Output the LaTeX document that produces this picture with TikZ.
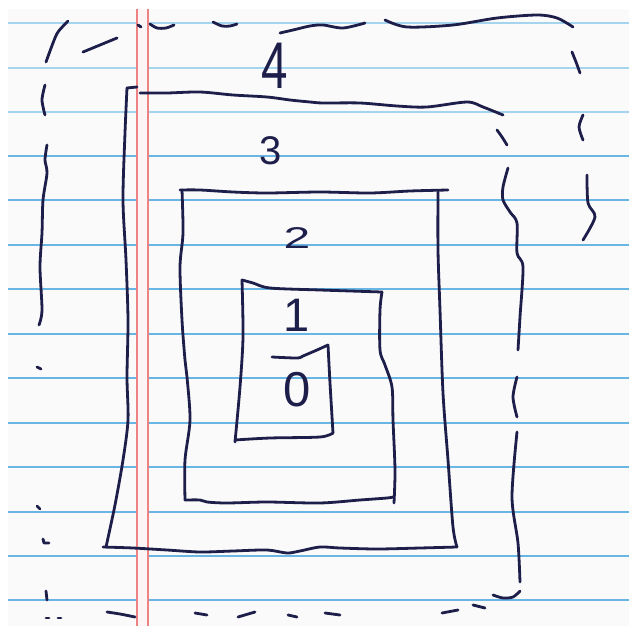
\documentclass[tikz,border=0pt]{standalone}
\usepackage{fontspec}
\setmainfont{Liberation Sans}
\definecolor{ink}{RGB}{30,30,75}
\definecolor{rulecol}{RGB}{105,182,228}
\definecolor{rulelight}{RGB}{165,212,238}
\definecolor{margincol}{RGB}{236,130,130}
\definecolor{paper}{RGB}{250,250,251}
\tikzset{
  pen/.style={draw=ink, line width=2.8pt, line cap=round, line join=round},
  ruleline/.style={draw=rulecol, line width=1.8pt},
  rulelightline/.style={draw=rulelight, line width=1.6pt},
  marginline/.style={draw=margincol, line width=1.1pt},
  digit/.style={text=ink, inner sep=0pt}
}
\begin{document}
\begin{tikzpicture}[x=1pt,y=-1pt]
\useasboundingbox (0,0) rectangle (629,626);
\fill[white] (0,0) rectangle (629,626);
\fill[paper] (8,9) rectangle (629,626);
% ruled lines
\foreach \yy in {23,68,112} {\draw[rulelightline] (8,\yy) -- (629,\yy);}
\foreach \yy in {156,200,245,289,334,378,423,467,512,556,600} {\draw[ruleline] (8,\yy) -- (629,\yy);}
% margin lines
\fill[margincol!8] (137,9) rectangle (148,626);
\draw[marginline] (137,9) -- (137,626);
\draw[marginline] (148,9) -- (148,626);

% ---- outer dashed frame (4) ----
\draw[pen] plot[smooth] coordinates {(68,21) (58,32) (53,43) (46,62)};
\draw[pen] plot[smooth] coordinates {(83,52) (100,45) (117,38)};
\draw[pen] (138,25) -- (141,27);
\draw[pen] plot[smooth] coordinates {(150,24) (157,28) (166,28) (174,25)};
\draw[pen] plot[smooth] coordinates {(213,22) (222,26) (230,26) (237,24)};
\draw[pen] plot[smooth] coordinates {(280,33) (293,30) (310,26) (323,25) (343,28) (365,23)};
\draw[pen] plot[smooth] coordinates {(385,20) (407,27) (453,25) (497,18) (537,15) (557,18) (573,27)};
\draw[pen] plot[smooth] coordinates {(572,52) (576,62) (580,73)};
\draw[pen] plot[smooth] coordinates {(583,115) (579,127) (583,140)};
\draw[pen] plot[smooth] coordinates {(587,175) (588,203) (595,217) (583,240)};
% left side
\draw[pen] plot[smooth] coordinates {(45,85) (42,100) (45,115)};
\draw[pen] plot[smooth] coordinates {(47,145) (45,160) (47,173) (43,200) (42,233) (40,267) (42,310) (39,325)};
\draw[pen] (37,367) -- (41,369);
\draw[pen] (37,506) -- (40,509);
\draw[pen] (43,539) -- (44,543) -- (49,543);
\draw[pen] (46,591) -- (47,600);
\draw[pen] (46,618) -- (49,618);
\draw[pen] (58,618) -- (61,618);
% bottom
\draw[pen] plot[smooth] coordinates {(107,612) (120,614) (135,617)};
\draw[pen] (195,613) -- (207,615);
\draw[pen] (238,617) -- (255,612);
\draw[pen] (288,615) -- (297,617);
\draw[pen] (325,613) -- (340,615);
\draw[pen] (442,613) -- (458,610);
\draw[pen] (473,605) -- (485,608);
\draw[pen] plot[smooth] coordinates {(493,595) (503,598) (513,597) (520,591)};
% inner right dashed
\draw[pen] plot[smooth] coordinates {(497,130) (502,137) (507,145)};
\draw[pen] plot[smooth] coordinates {(508,168) (503,187) (503,200) (510,212) (517,223) (517,253) (523,267) (520,317) (518,350)};
\draw[pen] plot[smooth] coordinates {(517,377) (513,397) (517,417)};
\draw[pen] plot[smooth] coordinates {(517,432) (512,497) (518,543) (520,582)};

% ---- rectangle 3 ----
\draw[pen] plot[smooth] coordinates {(140,93) (167,93) (200,92) (233,95) (267,97) (290,100) (310,102) (323,103) (360,103) (397,106) (427,107) (467,102) (483,107) (503,115)};
\draw[pen] (137,87) -- (127,88);
\draw[pen] plot[smooth] coordinates {(127,88) (125,133) (123,200) (126,260) (128,320) (127,377) (128,420) (123,460) (115,505) (106,547)};
\draw[pen] plot[smooth] coordinates {(103,547) (133,548) (167,550) (200,552) (233,551) (267,550) (287,553) (300,551) (320,547) (340,548) (377,549) (420,548) (457,547)};
\draw[pen] plot[smooth] coordinates {(457,547) (453,527) (448,460) (443,393) (440,310) (438,250) (438,192)};

% ---- rectangle 2 ----
\draw[pen] plot[smooth] coordinates {(180,190) (200,190) (233,192) (267,193) (320,192) (370,193) (410,191) (448,190)};
\draw[pen] plot[smooth] coordinates {(182,190) (183,233) (180,267) (182,320) (185,360) (187,377) (190,420) (185,460) (185,500)};
\draw[pen] plot[smooth] coordinates {(185,500) (200,500) (207,502) (227,503) (267,502) (320,503) (360,500) (387,498) (393,497)};
\draw[pen] plot[smooth] coordinates {(394,503) (395,470) (393,420) (392,387) (385,365) (380,350) (380,310) (382,292)};

% ---- rectangle 1 and 0 ----
\draw[pen] plot[smooth] coordinates {(382,292) (320,290) (270,288) (253,283) (242,280)};
\draw[pen] plot[smooth] coordinates {(242,280) (243,337) (240,387) (235,442)};
\draw[pen] plot[smooth] coordinates {(235,440) (270,438) (320,437) (333,433)};
\draw[pen] plot[smooth] coordinates {(333,433) (330,383) (328,345)};
\draw[pen] plot[smooth] coordinates {(328,345) (317,350) (303,356) (297,358) (272,357)};

% ---- labels ----
\node[digit, font=\fontsize{66}{66}\selectfont, xscale=0.72] (l4) at (275,66) {4};
\node[digit, font=\fontsize{40}{40}\selectfont] (l3) at (271,151) {3};
\node[digit, font=\fontsize{30}{30}\selectfont, xscale=1.6] (l2) at (297,238) {2};
\node[digit, font=\fontsize{47}{47}\selectfont] (l1) at (297,315) {1};
\node[digit, font=\fontsize{49}{49}\selectfont] (l0) at (297,390) {0};
\end{tikzpicture}
\end{document}
